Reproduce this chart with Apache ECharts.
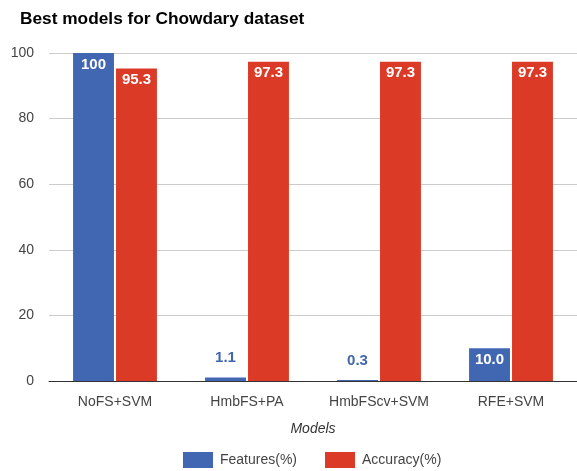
<!DOCTYPE html>
<html><head><meta charset="utf-8">
<script src="https://cdn.jsdelivr.net/npm/echarts@6/dist/echarts.min.js"></script>
<style>html,body{margin:0;padding:0;background:#fff}#c{width:577px;height:471px}</style>
</head><body><div id="c"></div>
<script>
const categories = ["NoFS+SVM", "HmbFS+PA", "HmbFScv+SVM", "RFE+SVM"];
const features = [100, 1.1, 0.3, 10.0];
const accuracy = [95.3, 97.3, 97.3, 97.3];
const featureLabels = ["100", "1.1", "0.3", "10.0"];
const accuracyLabels = ["95.3", "97.3", "97.3", "97.3"];
const yTicks = [0, 20, 40, 60, 80, 100];

const FONT = '"Liberation Sans", Arial, sans-serif';
const BLUE = '#4267b2', RED = '#db3b26';
function mk(vals, labels) {
  return vals.map((v, i) => {
    const small = v < 5;
    return {
      value: v,
      label: {
        show: true,
        position: small ? 'top' : 'insideTop',
        distance: small ? 12 : 4,
        color: small ? BLUE : '#fff',
        fontWeight: 'bold', fontSize: 15, fontFamily: FONT,
        formatter: () => labels[i]
      }
    };
  });
}
const chart = echarts.init(document.getElementById('c'));
chart.setOption({
  animation: false,
  textStyle: { fontFamily: FONT },
  title: { text: 'Best models for Chowdary dataset', left: 15, top: 6,
    textStyle: { fontSize: 17.3, fontWeight: 'bold', color: '#000', fontFamily: FONT } },
  legend: { top: 447, left: 178, itemWidth: 30, itemHeight: 16, itemGap: 28,
    icon: 'rect', textStyle: { fontSize: 14, color: '#444', fontFamily: FONT, padding: [0, 0, 0, 2] },
    data: ['Features(%)', 'Accuracy(%)'] },
  grid: { left: 49, right: 0, top: 53, bottom: 90 },
  xAxis: { type: 'category', data: categories,
    name: 'Models', nameLocation: 'middle', nameGap: 41,
    nameTextStyle: { fontStyle: 'italic', fontSize: 14, color: '#333', fontFamily: FONT },
    axisTick: { show: false },
    axisLine: { lineStyle: { color: '#333', width: 1 } },
    axisLabel: { fontSize: 14, color: '#444', margin: 14, fontFamily: FONT } },
  yAxis: { type: 'value', min: 0, max: 100, interval: 20,
    axisLabel: { fontSize: 14, color: '#444', margin: 15, fontFamily: FONT,
      formatter: v => yTicks.includes(v) ? String(v) : '' },
    splitLine: { lineStyle: { color: '#ccc' } },
    axisLine: { show: false }, axisTick: { show: false } },
  series: [
    { name: 'Features(%)', type: 'bar', data: mk(features, featureLabels),
      itemStyle: { color: BLUE }, barWidth: '31%', barGap: '5%' },
    { name: 'Accuracy(%)', type: 'bar', data: mk(accuracy, accuracyLabels),
      itemStyle: { color: RED }, barWidth: '31%', barGap: '5%' }
  ]
});
</script></body></html>
